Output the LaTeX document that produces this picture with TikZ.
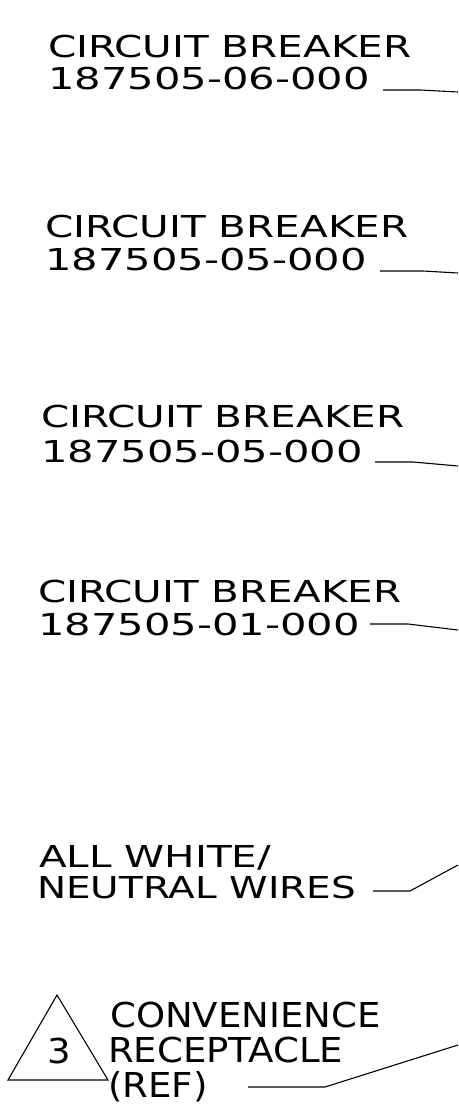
\documentclass[tikz,border=0pt]{standalone}
\usepackage{fontspec}
\newfontfamily\cbfont[FakeStretch=1.34]{DejaVu Sans}
\newfontfamily\cbnumfont[FakeStretch=1.38]{DejaVu Sans}
\newfontfamily\wirefont[FakeStretch=1.29]{DejaVu Sans}
\newfontfamily\reffont[FakeStretch=1.08]{DejaVu Sans}
\usetikzlibrary{positioning}

\tikzset{
    callout/.style={inner sep=0pt, anchor=base west, font=\cbfont\fontsize{30.2pt}{33pt}\selectfont},
    partno/.style={callout, font=\cbnumfont\fontsize{30.2pt}{33pt}\selectfont},
    wirecallout/.style={callout, font=\wirefont\fontsize{30.2pt}{33pt}\selectfont},
    refcallout/.style={inner sep=0pt, anchor=base west, font=\reffont\fontsize{34.3pt}{36pt}\selectfont},
    leader/.style={line width=1.1pt},
}

\begin{document}
\begin{tikzpicture}[x=1pt, y=-1pt]

    \useasboundingbox (0,0) rectangle (458,1119);

    \node[callout] (cbA) at (48,57) {CIRCUIT BREAKER};
    \node[partno] (cbAnum) at (48,89) {187505-06-000};
    \coordinate (cbAstart) at (383,90);
    \coordinate (cbAbend) at (420,90);
    \coordinate (cbAend) at (458,92);

    % ----------

    \node[callout] (cbB) at (45,237) {CIRCUIT BREAKER};
    \node[partno] (cbBnum) at (45,270) {187505-05-000};
    \coordinate (cbBstart) at (380,271);
    \coordinate (cbBbend) at (423,271);
    \coordinate (cbBend) at (458,273);

    % ----------

    \node[callout] (cbC) at (41,427) {CIRCUIT BREAKER};
    \node[partno] (cbCnum) at (41,462) {187505-05-000};
    \coordinate (cbCstart) at (375,462);
    \coordinate (cbCbend) at (413,462);
    \coordinate (cbCend) at (458,466);

    % ----------

    \node[callout] (cbD) at (38,602) {CIRCUIT BREAKER};
    \node[partno] (cbDnum) at (38,635) {187505-01-000};
    \coordinate (cbDstart) at (370,624);
    \coordinate (cbDbend) at (408,624);
    \coordinate (cbDend) at (458,630);

    % -------

    \node[callout] (neutral) at (39,867) {ALL WHITE/};
    \node[wirecallout] (neutralL) at (37,898) {NEUTRAL WIRES};
    \coordinate (neutralstart) at (373,891);
    \coordinate (neutralbend) at (410,891);
    \coordinate (neutralend) at (458,865);

    % -------

    \coordinate (triTop) at (57,995);
    \coordinate (triRight) at (108,1080);
    \coordinate (triLeft) at (8,1080);
    \draw[leader] (triTop) -- (triRight) -- (triLeft) -- cycle;
    \node[refcallout, anchor=base] (note) at (59,1063) {3};

    \node[refcallout] (recept) at (110,1027) {CONVENIENCE};
    \node[refcallout] (receptL) at (108,1062) {RECEPTACLE};
    \node[refcallout] (receptR) at (108,1097) {(REF)};
    \coordinate (receptstart) at (248,1087);
    \coordinate (receptbend) at (325,1087);
    \coordinate (receptend) at (458,1045);

    % leaders
    \draw[leader] (cbAstart) -- (cbAbend) -- (cbAend);
    \draw[leader] (cbBstart) -- (cbBbend) -- (cbBend);
    \draw[leader] (cbCstart) -- (cbCbend) -- (cbCend);
    \draw[leader] (cbDstart) -- (cbDbend) -- (cbDend);
    \draw[leader] (neutralstart) -- (neutralbend) -- (neutralend);
    \draw[leader] (receptstart) -- (receptbend) -- (receptend);

\end{tikzpicture}
\end{document}
